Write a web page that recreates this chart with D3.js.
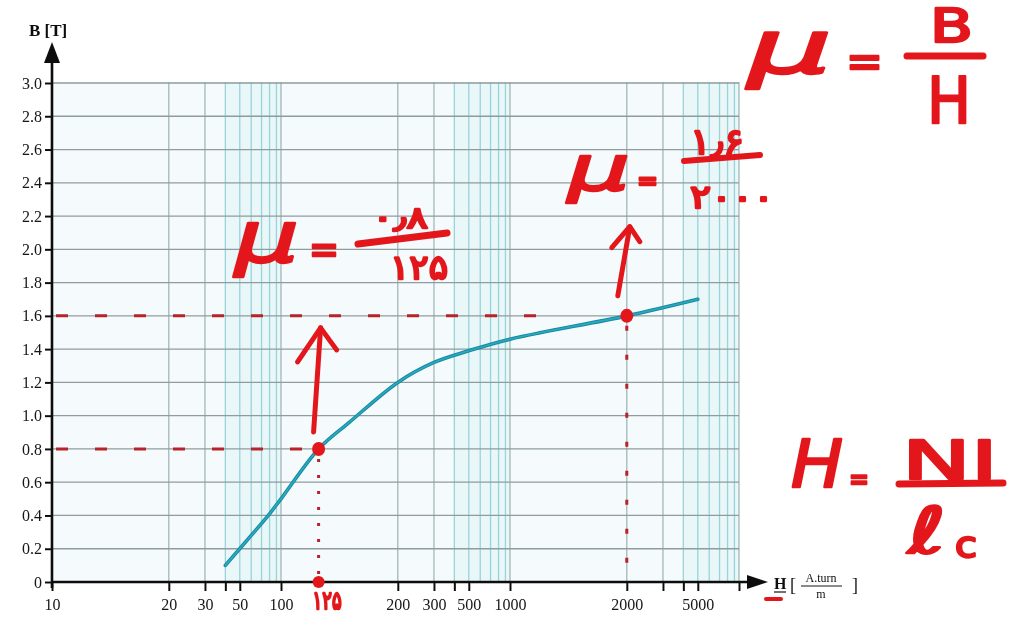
<!DOCTYPE html>
<html>
<head>
<meta charset="utf-8">
<script src="https://cdn.jsdelivr.net/npm/d3@7"></script>
<style>
  html, body { margin: 0; padding: 0; background: #ffffff; }
  svg { display: block; }
  .tick text { font-family: "Liberation Serif", "DejaVu Serif", serif; fill: #151515; }
</style>
</head>
<body>
<svg id="chart" width="1018" height="617"></svg>
<script>
// B-H magnetisation curve (B in tesla, H in ampere-turn per metre)
const curveH = [40, 60, 80, 100, 125, 150, 200, 300, 500, 1000, 2000, 5000];
const curveB = [0.10, 0.28, 0.41, 0.50, 0.80, 0.96, 1.20, 1.32, 1.39, 1.46, 1.60, 1.70];

// Worked points (H, B)
const pointH = [125, 2000];
const pointB = [0.8, 1.6];

// Axis ticks
const yTicks = [0, 0.2, 0.4, 0.6, 0.8, 1.0, 1.2, 1.4, 1.6, 1.8, 2.0, 2.2, 2.4, 2.6, 2.8, 3.0];
const xTicks = [10, 20, 30, 40, 50, 100, 200, 300, 400, 500, 1000, 2000, 3000, 4000, 5000, 10000];
const xTickLabels = [10, 20, 30, 50, 100, 200, 300, 500, 1000, 2000, 5000];
const decades = [10, 100, 1000];
const mantissas = [1, 2, 3, 4, 5, 6, 7, 8, 9];

// Paper scale: spacing of the printed rulings inside one decade
const mantissaFrac = [0, 0.51, 0.668, 0.757, 0.82, 0.87, 0.915, 0.95, 0.98];

const svg = d3.select("#chart");
const X0 = 52, DECADE_W = 229;
const Y0 = 582, YTOP = 83;

const xDomain = [], xRange = [];
decades.forEach((d, di) => {
  mantissas.forEach((m, mi) => {
    xDomain.push(m * d);
    xRange.push(X0 + (di + mantissaFrac[mi]) * DECADE_W);
  });
});
xDomain.push(10000);
xRange.push(X0 + decades.length * DECADE_W);

const x = d3.scaleLog().domain(xDomain).range(xRange);
const y = d3.scaleLinear().domain([0, 3]).range([Y0, YTOP]);
const xEnd = x(10000);
const gridTop = y(3.0) - 1;

const RED = "#e3191b";
const DARKRED = "#b8202a";

// soft look of the printed sheet
const defs = svg.append("defs");
defs.append("filter").attr("id", "soft")
  .append("feGaussianBlur").attr("stdDeviation", 0.5);
defs.append("filter").attr("id", "ink")
  .append("feGaussianBlur").attr("stdDeviation", 0.7);

const paper = svg.append("g").attr("filter", "url(#soft)");

// plot area background
paper.append("rect")
  .attr("x", X0).attr("y", gridTop)
  .attr("width", xEnd - X0).attr("height", Y0 - gridTop)
  .attr("fill", "#f5fbfc");

// tinted bands at the crowded end of each decade
decades.forEach(d => {
  paper.append("rect")
    .attr("x", x(4 * d)).attr("y", gridTop)
    .attr("width", x(10 * d) - x(4 * d)).attr("height", Y0 - gridTop)
    .attr("fill", "#e6f6f8").attr("opacity", 0.8);
});

// vertical rulings
const vLines = [];
decades.forEach(d => mantissas.forEach(m => { if (m * d > 10) vLines.push(m * d); }));
vLines.push(10000);
const isMajor = d => {
  const m = Math.round(d / Math.pow(10, Math.floor(Math.log10(d) + 1e-9)));
  return m === 1 || m === 2 || m === 3;
};
paper.append("g").selectAll("line").data(vLines).join("line")
  .attr("x1", d => x(d)).attr("x2", d => x(d))
  .attr("y1", gridTop).attr("y2", Y0)
  .attr("stroke", d => isMajor(d) ? "#a3b6b9" : "#9ad4da")
  .attr("stroke-width", 1.3);

// horizontal rulings
paper.append("g").selectAll("line").data(yTicks.filter(v => v > 0)).join("line")
  .attr("x1", X0).attr("x2", xEnd)
  .attr("y1", d => y(d)).attr("y2", d => y(d))
  .attr("stroke", "#8f9c9e").attr("stroke-width", 1.3);

// axes
const yAxis = d3.axisLeft(y).tickValues(yTicks)
  .tickFormat(d => d === 0 ? "0" : d.toFixed(1))
  .tickSize(7).tickSizeOuter(0);
const gy = paper.append("g").attr("transform", `translate(${X0},0)`).call(yAxis);
gy.select(".domain").remove();
gy.selectAll(".tick line").attr("stroke", "#111").attr("stroke-width", 2);
gy.selectAll(".tick text").attr("font-size", 16).attr("x", -10);

const xAxis = d3.axisBottom(x).tickValues(xTicks)
  .tickFormat(d => xTickLabels.includes(d) ? String(d) : "")
  .tickSize(9).tickSizeOuter(0);
const gx = paper.append("g").attr("transform", `translate(0,${Y0})`).call(xAxis);
gx.select(".domain").remove();
gx.selectAll(".tick line").attr("stroke", "#111").attr("stroke-width", 2);
gx.selectAll(".tick text").attr("font-size", 16).attr("y", 28).attr("dy", 0);

// axis lines with arrow heads
paper.append("line").attr("x1", X0).attr("x2", X0).attr("y1", Y0 + 6).attr("y2", 60)
  .attr("stroke", "#111").attr("stroke-width", 2.6);
paper.append("path").attr("d", `M${X0},42 L${X0 - 8},63 L${X0 + 8},63 Z`).attr("fill", "#111");
paper.append("line").attr("x1", X0).attr("x2", 750).attr("y1", Y0).attr("y2", Y0)
  .attr("stroke", "#111").attr("stroke-width", 2.6);
paper.append("path").attr("d", `M768,${Y0} L747,${Y0 - 7} L747,${Y0 + 7} Z`).attr("fill", "#111");

// axis titles
paper.append("text").attr("x", 29).attr("y", 36)
  .attr("font-family", "Liberation Serif, serif").attr("font-weight", "bold")
  .attr("font-size", 17).attr("fill", "#111").text("B [T]");

const hl = paper.append("g").attr("font-family", "Liberation Serif, serif").attr("fill", "#111");
hl.append("text").attr("x", 774).attr("y", 589).attr("font-size", 16).attr("font-weight", "bold").text("H");
hl.append("line").attr("x1", 774).attr("x2", 786).attr("y1", 592).attr("y2", 592).attr("stroke", "#111").attr("stroke-width", 1.2);
hl.append("text").attr("x", 790).attr("y", 591).attr("font-size", 18).text("[");
hl.append("text").attr("x", 821).attr("y", 582).attr("font-size", 12).attr("text-anchor", "middle").text("A.turn");
hl.append("line").attr("x1", 801).attr("x2", 842).attr("y1", 586).attr("y2", 586).attr("stroke", "#111").attr("stroke-width", 1);
hl.append("text").attr("x", 821).attr("y", 598).attr("font-size", 12).attr("text-anchor", "middle").text("m");
hl.append("text").attr("x", 852).attr("y", 591).attr("font-size", 18).text("]");

// magnetisation curve
const curveLine = d3.line().curve(d3.curveCatmullRom.alpha(0.5));
const curve = curveH.map((h, i) => [x(h), y(curveB[i])]);
paper.append("path")
  .attr("d", curveLine(curve))
  .attr("fill", "none").attr("stroke", "#17899f").attr("stroke-width", 3.6)
  .attr("stroke-linecap", "round");
paper.append("path")
  .attr("d", curveLine(curve))
  .attr("fill", "none").attr("stroke", "#2aaac1").attr("stroke-width", 1.6)
  .attr("stroke-linecap", "round");

// ---- hand annotations ----
const ink = svg.append("g").attr("filter", "url(#ink)");

// dashed guides from the B axis to each point, and down to the H axis
pointH.forEach((h, i) => {
  const reach = i === 0 ? x(h) - 10 : x(h) - 70;
  ink.append("line")
    .attr("x1", X0 + 4).attr("x2", reach)
    .attr("y1", y(pointB[i])).attr("y2", y(pointB[i]))
    .attr("stroke", DARKRED).attr("stroke-width", 3)
    .attr("stroke-dasharray", "12 27");
  ink.append("line")
    .attr("x1", x(h)).attr("x2", x(h))
    .attr("y1", y(pointB[i]) + 10).attr("y2", Y0 - 4)
    .attr("stroke", DARKRED).attr("stroke-width", 3)
    .attr("stroke-dasharray", i === 0 ? "3 13" : "5 24");
});

// point markers
pointH.forEach((h, i) => {
  ink.append("ellipse").attr("cx", x(h)).attr("cy", y(pointB[i]))
    .attr("rx", 6.5).attr("ry", 7).attr("fill", RED);
});
ink.append("circle").attr("cx", x(pointH[0])).attr("cy", Y0).attr("r", 6).attr("fill", RED);

// arrows pointing up from the points
function arrow(x1, y1, x2, y2, lx, ly, rx, ry) {
  const g = ink.append("g").attr("stroke", RED).attr("stroke-width", 5)
    .attr("stroke-linecap", "round").attr("stroke-linejoin", "round").attr("fill", "none");
  g.append("path").attr("d", `M${x1},${y1} L${x2},${y2}`);
  g.append("path").attr("d", `M${x2 + lx},${y2 + ly} L${x2},${y2} L${x2 + rx},${y2 + ry}`);
}
arrow(x(pointH[0]) - 5, y(pointB[0]) - 17, x(pointH[0]) + 2, y(1.6) + 12, -23, 34, 16, 22);
arrow(x(pointH[1]) - 9, y(pointB[1]) - 20, x(pointH[1]) + 3, y(2.1) - 6, -18, 21, 10, 15);

const hand = ink.append("g").attr("fill", RED).attr("stroke", RED)
  .attr("stroke-width", 2.4).attr("stroke-linejoin", "round").attr("stroke-linecap", "round")
  .attr("font-family", "DejaVu Sans, sans-serif");

// handwritten text, stretched to the width it takes on the sheet
function hText(xp, yp, size, str, width, italic, anchor) {
  const t = hand.append("text").attr("x", xp).attr("y", yp).attr("font-size", size)
    .attr("text-anchor", anchor || "start")
    .attr("font-style", italic ? "italic" : "normal").text(str);
  if (width) t.attr("textLength", width).attr("lengthAdjust", "spacingAndGlyphs");
  return t;
}
function bar(x1, y1, x2, y2, w) {
  ink.append("line").attr("x1", x1).attr("y1", y1).attr("x2", x2).attr("y2", y2)
    .attr("stroke", RED).attr("stroke-width", w).attr("stroke-linecap", "round");
}

// μ = B / H
hText(748, 73, 74, "μ", 84, true);
hText(846, 77, 46, "=", 37);
hText(930, 42, 46, "B", 43);
bar(907, 56, 983, 56, 7);
hText(927, 123, 64, "H", 44);

// μ = 0.8 / 125
hText(235, 262, 72, "μ", 64, true);
hText(309, 263, 40, "=", 30);
hText(372, 228, 30, "۰٫۸", 56);
bar(358, 244, 447, 233, 7);
hText(390, 279, 34, "۱۲۵", 58);

// μ = 1.6 / 2000
hText(568, 190, 62, "μ", 62, true);
hText(637, 190, 26, "=", 21);
hText(690, 154, 36, "۱٫۶", 54);
bar(684, 161, 760, 155, 6);
hText(690, 208, 32, "۲۰۰۰", 84);

// H = N I / l_c
hText(791, 487, 66, "H", 52, true);
hText(849, 489, 30, "=", 20);
hText(902, 479, 54, "NI", 96);
bar(899, 484, 1003, 483, 7);
hText(908, 553, 64, "ℓ", 38, true);
hText(955, 557, 36, "c", 22);

// H value read on the axis
hText(x(pointH[0]) - 6, 609, 25, "۱۲۵", 29);

// red mark under the H axis title
bar(766, 599, 781, 599, 4);
</script>
</body>
</html>
